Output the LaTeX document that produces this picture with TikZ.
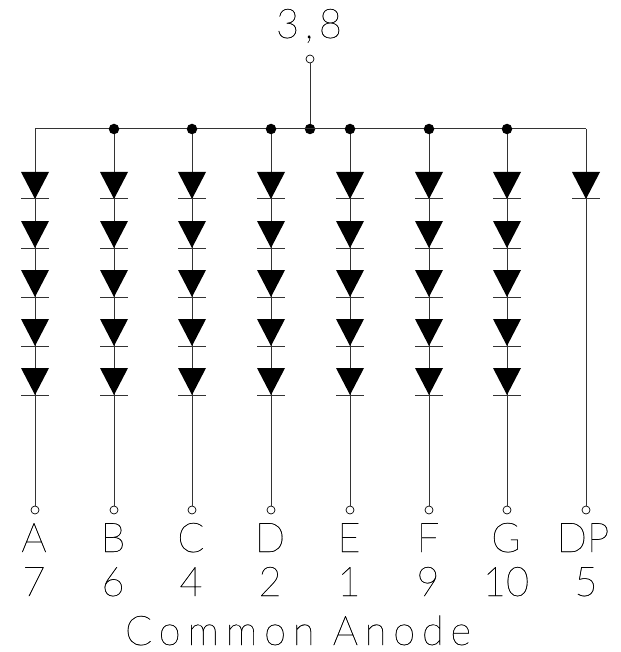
\documentclass[tikz,border=0pt]{standalone}
\usepackage{fontspec}
\newfontfamily\cadfont{Lato Hairline}[FakeBold=0.5]
\usetikzlibrary{calc}
\newcommand{\stretchtxt}[1]{\scalebox{1.05}[1.08]{#1}}
\tikzset{
  wire/.style={line width=1pt,black!80},
  junction/.style={circle,fill=black,inner sep=0pt,minimum size=10.5pt},
  pinhole/.style={circle,draw,fill=white,line width=.7pt,inner sep=0pt,minimum size=8pt},
  txt/.style={font=\cadfont\fontsize{38}{38}\selectfont,anchor=base,inner sep=0pt},
  diode/.pic={
    \fill (-14,0) -- (14,0) -- (0,27) -- cycle;
    \draw[wire] (-14,27) -- (14,27);
  }
}
\begin{document}
\begin{tikzpicture}[x=1pt,y=-1pt]
\useasboundingbox (0,0) rectangle (620,652);
\coordinate (busA) at (35,129);
\coordinate (busDP) at (586,129);
\node[pinhole] (pintop) at (310,59) {};
\node[junction] (jtop) at (310,129) {};
\draw[wire] (busA) -- (busDP);
\draw[wire] (pintop) -- (jtop);
% columns with five segments
\foreach \seg/\x/\lab/\num in {A/35/A/7,B/114/B/6,C/192/C/4,D/271/D/2,E/350/E/1,F/429/F/9,G/507/G/10}{
  \coordinate (bus\seg) at (\x,129);
  \node[pinhole] (pin\seg) at (\x,510) {};
  \draw[wire] (bus\seg) -- (pin\seg);
  \foreach \y in {172,221,270,319,368}
    \pic at (\x,\y) {diode};
  \node[txt] (lab\seg) at (\x-1,552) {\stretchtxt{\lab}};
  \node[txt] (num\seg) at (\x-1,596) {\stretchtxt{\num}};
}
\foreach \seg in {B,C,D,E,F,G}
  \node[junction] (j\seg) at (bus\seg) {};
% decimal point
\node[pinhole] (pinDP) at (586,510) {};
\draw[wire] (busDP) -- (pinDP);
\pic at (586,172) {diode};
\node[txt] (labDP) at (583,552) {\stretchtxt{DP}};
\node[txt] (numDP) at (586,596) {\stretchtxt{5}};
\node[txt] (common) at (298,645) {\addfontfeature{LetterSpace=17}\stretchtxt{Common Anode}};
\node[txt] (top) at (309,38) {\addfontfeature{LetterSpace=14}\stretchtxt{3,8}};
\end{tikzpicture}
\end{document}
